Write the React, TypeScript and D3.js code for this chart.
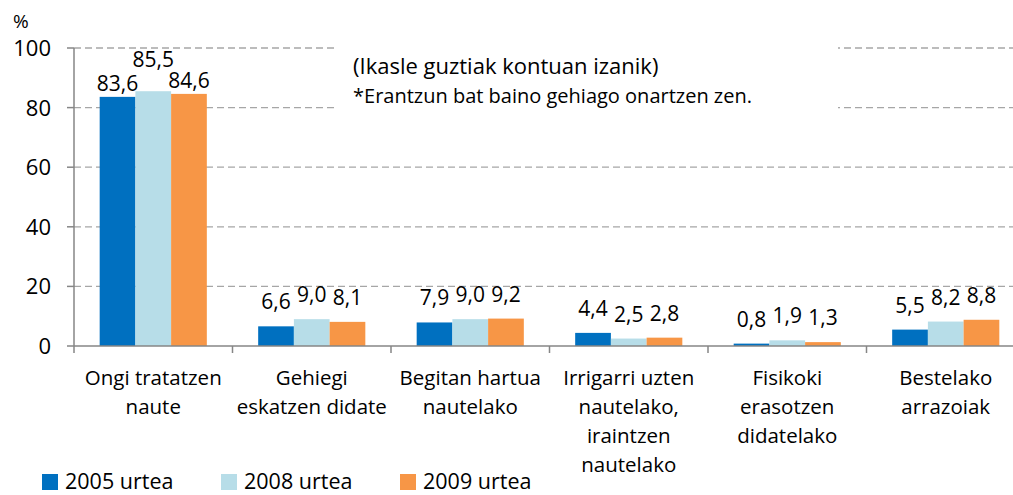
import * as d3 from "d3";

// categories (x axis), each line of the wrapped label separated by "\n"
const categories = [
  "Ongi tratatzen\nnaute",
  "Gehiegi\neskatzen didate",
  "Begitan hartua\nnautelako",
  "Irrigarri uzten\nnautelako,\niraintzen\nnautelako",
  "Fisikoki\nerasotzen\ndidatelako",
  "Bestelako\narrazoiak",
];
const seriesNames = ["2005 urtea", "2008 urtea", "2009 urtea"];
const v2005 = [83.6, 6.6, 7.9, 4.4, 0.8, 5.5];
const v2008 = [85.5, 9.0, 9.0, 2.5, 1.9, 8.2];
const v2009 = [84.6, 8.1, 9.2, 2.8, 1.3, 8.8];
const yTicks = [0, 20, 40, 60, 80, 100];
const colors = ["#0070C0", "#B7DDE8", "#F79646"];
const note1 = "(Ikasle guztiak kontuan izanik)";
const note2 = "*Erantzun bat baino gehiago onartzen zen.";

const W = 1013;
const H = 495;
const FONT = "'Open Sans', sans-serif";

const App = () => {
  const series = [v2005, v2008, v2009];

  const y = d3.scaleLinear().domain([0, 100]).range([346, 48]);
  const x0 = d3.scaleBand().domain(categories).range([74, 74 + 158.5 * 6]);
  const bw = x0.bandwidth();
  const x1 = d3
    .scaleBand()
    .domain(seriesNames)
    .range([bw * 0.162, bw * 0.838]);

  const fmt = (v: number) => v.toFixed(1).replace(".", ",");

  // label placement: above the bar; when labels are too wide for the bars,
  // the middle one is lifted over its neighbours
  const labelPos = (ci: number) => {
    const vals = series.map((s) => s[ci]);
    const wide = vals.some((v) => fmt(v).length > 3);
    if (!wide) return vals.map((v) => y(v) - 17);
    const base = vals.map((v) => y(v) - 6);
    base[1] = Math.min(base[0], base[2]) - 21;
    return base;
  };

  return (
    <div style={{ position: "absolute", left: 0, top: 0 }}>
      <svg width={W} height={H} style={{ display: "block", fontFamily: FONT }}>
        {/* gridlines */}
        {yTicks
          .filter((t) => t > 0)
          .map((t) => (
            <line
              key={t}
              x1={74}
              x2={W}
              y1={y(t)}
              y2={y(t)}
              stroke="#A6A6A6"
              strokeWidth={1.3}
              strokeDasharray="7,4"
            />
          ))}

        {/* note box */}
        <rect x={335} y={38} width={503} height={80} fill="#fff" />
        <text x={353} y={74} fontSize={22} fill="#000">
          {note1}
        </text>
        <text x={353} y={103} fontSize={20} fill="#000">
          {note2}
        </text>

        {/* bars */}
        {categories.map((c, ci) =>
          series.map((s, si) => (
            <rect
              key={c + si}
              x={(x0(c) as number) + (x1(seriesNames[si]) as number)}
              y={y(s[ci])}
              width={x1.bandwidth()}
              height={y(0) - y(s[ci])}
              fill={colors[si]}
            />
          ))
        )}

        {/* value labels */}
        {categories.map((c, ci) => {
          const ly = labelPos(ci);
          return series.map((s, si) => (
            <text
              key={"l" + c + si}
              x={(x0(c) as number) + (x1(seriesNames[si]) as number) + x1.bandwidth() / 2}
              y={ly[si]}
              textAnchor="middle"
              fontSize={21}
              fill="#000"
            >
              {fmt(s[ci])}
            </text>
          ));
        })}

        {/* y axis */}
        <line x1={74} x2={74} y1={y(100)} y2={y(0)} stroke="#868686" strokeWidth={1.5} />
        {yTicks.map((t) => (
          <g key={"t" + t}>
            <line x1={67} x2={74} y1={y(t)} y2={y(t)} stroke="#868686" strokeWidth={1.5} />
            <text x={51} y={y(t)} dy="0.36em" textAnchor="end" fontSize={22} fill="#000">
              {t}
            </text>
          </g>
        ))}
        <text x={13} y={28} fontSize={19} fill="#000">
          %
        </text>

        {/* x axis */}
        <line x1={74} x2={W} y1={y(0)} y2={y(0)} stroke="#868686" strokeWidth={1.5} />
        {categories.map((c) => (
          <line
            key={"xt" + c}
            x1={x0(c) as number}
            x2={x0(c) as number}
            y1={y(0)}
            y2={y(0) + 7}
            stroke="#868686"
            strokeWidth={1.5}
          />
        ))}
        {categories.map((c) => (
          <text
            key={"xl" + c}
            x={(x0(c) as number) + bw / 2}
            y={385}
            textAnchor="middle"
            fontSize={20.5}
            fill="#000"
          >
            {c.split("\n").map((line, i) => (
              <tspan key={i} x={(x0(c) as number) + bw / 2} dy={i === 0 ? 0 : 29}>
                {line}
              </tspan>
            ))}
          </text>
        ))}

        {/* legend */}
        {seriesNames.map((n, i) => (
          <g key={"lg" + n} transform={`translate(${42 + i * 179},474)`}>
            <rect width={16} height={16} fill={colors[i]} />
            <text x={23} y={15} fontSize={21.5} fill="#000">
              {n}
            </text>
          </g>
        ))}
      </svg>
    </div>
  );
};

export default App;
